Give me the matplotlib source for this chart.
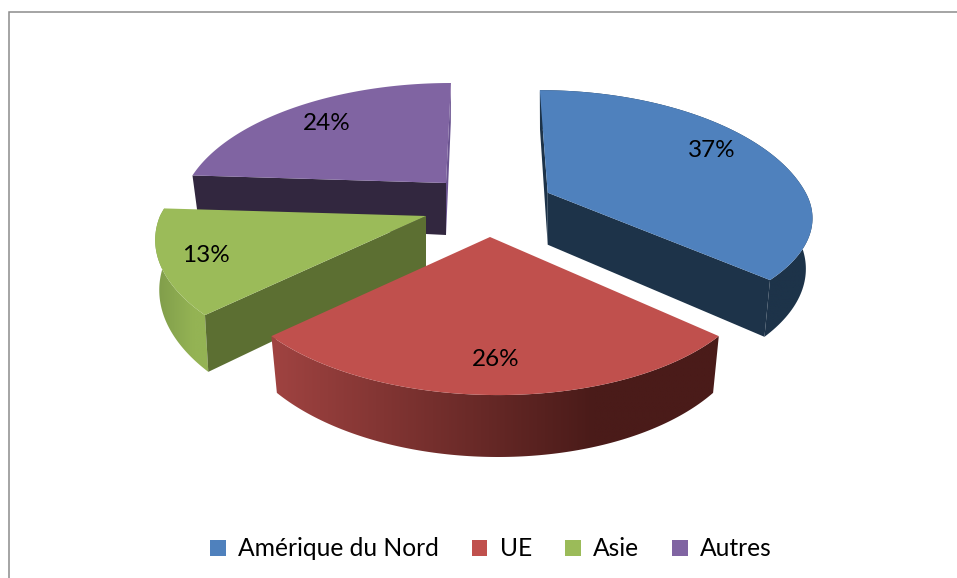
import numpy as np
import matplotlib as mpl
mpl.use('Agg')
import matplotlib.pyplot as plt
from matplotlib.patches import Polygon, Rectangle, Patch

plt.rcParams['font.family'] = ['Lato', 'DejaVu Sans']

# chart data
categories = ['Amérique du Nord', 'UE', 'Asie', 'Autres']
shares = [37, 26, 13, 24]

# look of each slice
top_colors = ['#4F81BD', '#C0504D', '#9BBB59', '#8064A2']
start_cut_colors = ['#1D3349', '#4E1D1B', '#5C6F32', '#32273F']
end_cut_colors = ['#1D3349', '#A04341', '#5C6F32', '#6A5390']
rim_left = ['#1D3349', '#A04341', '#7F9C4A', '#8064A2']
rim_right = ['#1D3349', '#4A1B19', '#94B354', '#8064A2']
# faces that can be seen from the camera
show_rim = [True, True, True, False]
show_start_cut = [True, False, True, True]
show_end_cut = [True, False, False, True]

# layout in pixels, the axes run over the whole picture
apex_x = [547.7, 490, 426, 446]
apex_y = [192.7, 237, 216, 183]
radius_x = [258, 259.6, 266, 258]
radius_front = [108, 122.5, 122.5, 122.5]
radius_back = [125.6, 122.5, 122.5, 122.5]
lean_back = [43, 0, 0, -27]
lean_front = [0, 28, 45, 0]
label_dx = [164, 6, -220, -119]
label_dy = [-42.5, 122, 39, -60]
persp = 0.225
depth = 48.0
apex_depth = 52.0
taper = [0.025, 0.025, 0.015, 0.025]
draw_order = [3, 0, 2, 1]


def project(i, ang):
    # ang is clockwise from the top of the pie, in radians
    u = np.sin(ang)
    v = -np.cos(ang)
    s = 1 / (1 - persp * v)
    x = apex_x[i] + radius_x[i] * u * s
    x = x + lean_back[i] * np.minimum(s - 1, 0) + lean_front[i] * np.maximum(s - 1, 0)
    y = apex_y[i] + np.where(v > 0, radius_front[i], radius_back[i]) * v * s
    return x, y, depth * s


def gradient_fill(ax, verts, left, right, zo):
    xs = verts[:, 0]
    c0 = np.array(mpl.colors.to_rgb(left))
    c1 = np.array(mpl.colors.to_rgb(right))
    t = np.linspace(0, 1, 256)
    # the dark end is reached before the right edge
    t = np.minimum(t / 0.72, 1)[None, :, None]
    img = c0[None, None, :] * (1 - t) + c1[None, None, :] * t
    poly = Polygon(verts, closed=True, fc='none', ec='none', transform=ax.transData)
    ax.add_patch(poly)
    im = ax.imshow(img, extent=[xs.min(), xs.max(), verts[:, 1].max(), verts[:, 1].min()],
                   aspect='auto', zorder=zo, interpolation='bilinear')
    im.set_clip_path(poly)


fig = plt.figure(figsize=(9.57, 5.78), dpi=100)
ax = fig.add_axes([0, 0, 1, 1])
ax.set_xlim(0, 957)
ax.set_ylim(578, 0)
ax.axis('off')

ax.add_patch(Rectangle((8.5, 12), 1100, 800, fc='white', ec='#8C8C8C', lw=1.1, zorder=0))

ends = np.cumsum(shares) / np.sum(shares) * 2 * np.pi
starts = np.concatenate([[0], ends[:-1]])

zo = 2
for i in draw_order:
    a = np.linspace(starts[i], ends[i], 120)
    x, y, d = project(i, a)
    px, py = apex_x[i], apex_y[i]
    xb = x - (x - px) * taper[i]
    yb = y + d

    # outer wall
    if show_rim[i]:
        rim = np.vstack([np.column_stack([x, y]), np.column_stack([xb, yb])[::-1]])
        gradient_fill(ax, rim, rim_left[i], rim_right[i], zo)
        zo += 1
    # cut at the start of the slice
    if show_start_cut[i]:
        cut = np.array([[px, py], [x[0], y[0]], [xb[0], yb[0]], [px, py + apex_depth]])
        ax.add_patch(Polygon(cut, fc=start_cut_colors[i], ec='none', zorder=zo))
        zo += 1
    # cut at the end of the slice
    if show_end_cut[i]:
        cut = np.array([[px, py], [x[-1], y[-1]], [xb[-1], yb[-1]], [px, py + apex_depth]])
        ax.add_patch(Polygon(cut, fc=end_cut_colors[i], ec='none', zorder=zo))
        zo += 1
    # top face
    top = np.vstack([[[px, py]], np.column_stack([x, y])])
    ax.add_patch(Polygon(top, fc=top_colors[i], ec='none', zorder=zo))
    zo += 1

for i in range(len(shares)):
    ax.text(apex_x[i] + label_dx[i], apex_y[i] + label_dy[i], str(shares[i]) + '%',
            ha='center', va='center', fontsize=17.5, color='black', zorder=50)

ax.set_xlim(0, 957)
ax.set_ylim(578, 0)

handles = [Patch(fc=c, ec='none') for c in top_colors]
leg = ax.legend(handles, categories, ncols=4, loc='center', bbox_to_anchor=(491 / 957, 1 - 549 / 578),
                frameon=False, fontsize=17.7, handlelength=0.62, handleheight=0.62,
                handletextpad=0.5, columnspacing=1.36, borderpad=0)
leg.set_zorder(60)

fig.savefig('out.png', dpi=100)
